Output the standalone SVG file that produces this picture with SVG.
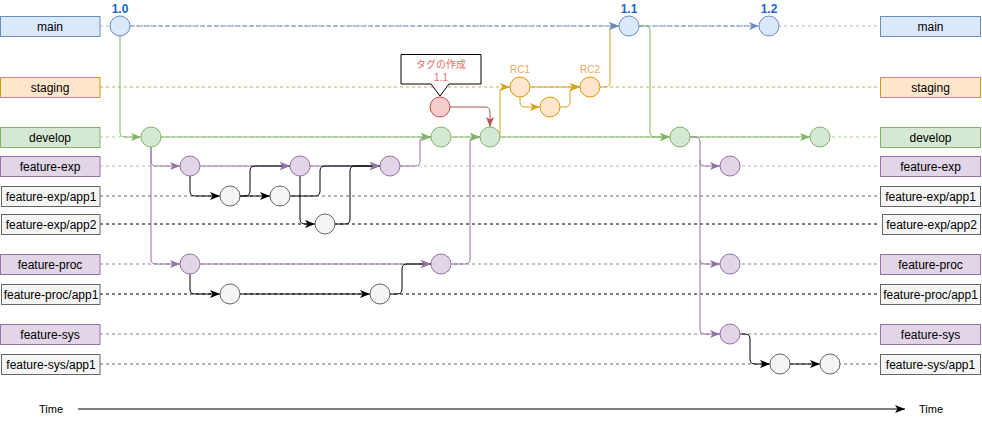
<svg xmlns="http://www.w3.org/2000/svg" width="982" height="425" viewBox="0 0 982 425">
<defs>
<style>
text{font-family:"Liberation Sans","Noto Sans CJK JP",Arial,sans-serif}
.lbl{font-size:12px;text-anchor:middle;fill:#000}
.ver{font-size:12px;font-weight:bold;fill:#1a66c8;text-anchor:middle}
.rc{font-size:10px;fill:#f2a65a;text-anchor:middle}
.bMain{fill:#dae8fc;stroke:#6c8ebf}
.bStg{fill:#ffe6cc;stroke:#d79b00}
.bDev{fill:#d5e8d4;stroke:#82b366}
.bFeat{fill:#e1d5e7;stroke:#9673a6}
.bApp{fill:#f5f5f5;stroke:#666666}
.bRed{fill:#f8cecc;stroke:#b85450}
.lane{fill:none;stroke-width:1;stroke-dasharray:3 3}
.c{fill:none;stroke-width:1}
.blue{stroke:#6c8ebf}
.green{stroke:#82b366}
.purple{stroke:#9673a6}
.black{stroke:#000}
.gold{stroke:#d6a31f}
.red{stroke:#b85450}
</style>
<marker id="aBlue" viewBox="0 0 10 8" refX="10" refY="4" markerWidth="10" markerHeight="8" markerUnits="userSpaceOnUse" orient="auto"><path d="M0,0 L10,4 L0,8 L2.5,4 Z" fill="#6c8ebf"/></marker>
<marker id="aGreen" viewBox="0 0 10 8" refX="10" refY="4" markerWidth="10" markerHeight="8" markerUnits="userSpaceOnUse" orient="auto"><path d="M0,0 L10,4 L0,8 L2.5,4 Z" fill="#82b366"/></marker>
<marker id="aPurple" viewBox="0 0 10 8" refX="10" refY="4" markerWidth="10" markerHeight="8" markerUnits="userSpaceOnUse" orient="auto"><path d="M0,0 L10,4 L0,8 L2.5,4 Z" fill="#9673a6"/></marker>
<marker id="aBlack" viewBox="0 0 10 8" refX="10" refY="4" markerWidth="10" markerHeight="8" markerUnits="userSpaceOnUse" orient="auto"><path d="M0,0 L10,4 L0,8 L2.5,4 Z" fill="#000"/></marker>
<marker id="aGold" viewBox="0 0 10 8" refX="10" refY="4" markerWidth="10" markerHeight="8" markerUnits="userSpaceOnUse" orient="auto"><path d="M0,0 L10,4 L0,8 L2.5,4 Z" fill="#d6a31f"/></marker>
<marker id="aRed" viewBox="0 0 10 8" refX="10" refY="4" markerWidth="10" markerHeight="8" markerUnits="userSpaceOnUse" orient="auto"><path d="M0,0 L10,4 L0,8 L2.5,4 Z" fill="#b85450"/></marker>
</defs>
<rect width="982" height="425" fill="#fff"/>

<g id="lanes">
<path class="lane" stroke="#a9bddb" d="M100,26 H880"/>
<path class="lane" stroke="#d9ad35" stroke-width="1.5" stroke-dasharray="4 3" d="M100,87 H880"/>
<path class="lane" stroke="#a8cf93" d="M100,137 H880"/>
<path class="lane" stroke="#c5afd3" d="M100,166 H880"/>
<path class="lane" stroke="#666" stroke-width="1.5" stroke-dasharray="4 3" d="M100,196 H880"/>
<path class="lane" stroke="#000" d="M100,224 H880"/>
<path class="lane" stroke="#8f7d9c" d="M100,264 H880"/>
<path class="lane" stroke="#000" d="M100,294 H880"/>
<path class="lane" stroke="#8f7d9c" d="M100,334 H880"/>
<path class="lane" stroke="#666" stroke-width="1.5" stroke-dasharray="4 3" d="M100,364 H880"/>
</g>

<g id="connectors">
<path class="c blue" stroke-width="1.5" stroke-dasharray="5 2" d="M130,26 H619" marker-end="url(#aBlue)"/>
<path class="c blue" stroke-width="1.5" stroke-dasharray="5 2" d="M639,26 H759" marker-end="url(#aBlue)"/>
<path class="c green" d="M120,36 V132 Q120,137 125,137 H141" marker-end="url(#aGreen)"/>
<path class="c green" stroke-width="1.3" d="M161,137 H431" marker-end="url(#aGreen)"/>
<path class="c green" stroke-width="1.3" d="M451,137 H480" marker-end="url(#aGreen)"/>
<path class="c green" stroke-width="1.3" d="M500,137 H670" marker-end="url(#aGreen)"/>
<path class="c green" stroke-width="1.3" d="M690,137 H810" marker-end="url(#aGreen)"/>
<path class="c green" d="M639,26 H645 Q650,26 650,31 V132 Q650,137 655,137 H670" marker-end="url(#aGreen)"/>
<path class="c gold" d="M500,134 V92 Q500,87 505,87 H510" marker-end="url(#aGold)"/>
<path class="c gold" stroke-width="1.5" d="M530,87 H580" marker-end="url(#aGold)"/>
<path class="c gold" d="M520,97 V102 Q520,107 525,107 H540" marker-end="url(#aGold)"/>
<path class="c gold" d="M560,107 H565 Q570,107 570,102 V92 Q570,87 575,87 H580" marker-end="url(#aGold)"/>
<path class="c gold" d="M600,87 H605 Q610,87 610,82 V31 Q610,26 615,26 H619" marker-end="url(#aBlue)"/>
<path class="c red" d="M450,107 H485 Q490,107 490,112 V127" marker-end="url(#aRed)"/>
<path class="c purple" d="M151,147 V161 Q151,166 156,166 H180" marker-end="url(#aPurple)"/>
<path class="c purple" d="M151,147 V259 Q151,264 156,264 H180" marker-end="url(#aPurple)"/>
<path class="c purple" d="M200,166 H290" marker-end="url(#aPurple)"/>
<path class="c purple" d="M310,166 H380" marker-end="url(#aPurple)"/>
<path class="c purple" d="M400,166 H415 Q420,166 420,161 V142 Q420,137 425,137 H431" marker-end="url(#aGreen)"/>
<path class="c black" d="M190,176 V191 Q190,196 195,196 H220" marker-end="url(#aBlack)"/>
<path class="c black" d="M240,196 H270" marker-end="url(#aBlack)"/>
<path class="c black" d="M240,196 H245 Q250,196 250,191 V171 Q250,166 255,166 H290" marker-end="url(#aPurple)"/>
<path class="c black" d="M290,196 H315 Q320,196 320,191 V171 Q320,166 325,166 H380" marker-end="url(#aPurple)"/>
<path class="c black" d="M300,176 V219 Q300,224 305,224 H315" marker-end="url(#aBlack)"/>
<path class="c black" d="M335,224 H345 Q350,224 350,219 V171 Q350,166 355,166 H380" marker-end="url(#aPurple)"/>
<path class="c purple" d="M200,264 H431" marker-end="url(#aPurple)"/>
<path class="c black" d="M190,274 V289 Q190,294 195,294 H220" marker-end="url(#aBlack)"/>
<path class="c black" d="M240,294 H370" marker-end="url(#aBlack)"/>
<path class="c black" d="M390,294 H397 Q402,294 402,289 V269 Q402,264 407,264 H431" marker-end="url(#aPurple)"/>
<path class="c purple" d="M451,264 H465 Q470,264 470,259 V142 Q470,137 475,137 H480" marker-end="url(#aGreen)"/>
<path class="c purple" d="M690,137 H695 Q700,137 700,142 V161 Q700,166 705,166 H720" marker-end="url(#aPurple)"/>
<path class="c purple" d="M700,160 V259 Q700,264 705,264 H720" marker-end="url(#aPurple)"/>
<path class="c purple" d="M700,260 V329 Q700,334 705,334 H720" marker-end="url(#aPurple)"/>
<path class="c black" d="M740,334 H745 Q750,334 750,339 V359 Q750,364 755,364 H770" marker-end="url(#aBlack)"/>
<path class="c black" d="M790,364 H820" marker-end="url(#aBlack)"/>
<path class="c black" d="M78,409 H905" marker-end="url(#aBlack)"/>
</g>

<g id="labels-left">
<g id="L-main"><rect class="bMain" x="0.5" y="16.5" width="99.5" height="20"/><text class="lbl" x="50" y="30.5">main</text></g>
<g id="L-staging"><rect class="bStg" x="0.5" y="77.5" width="99.5" height="20"/><text class="lbl" x="50" y="91.5">staging</text></g>
<g id="L-develop"><rect class="bDev" x="0.5" y="127.5" width="99.5" height="20"/><text class="lbl" x="50" y="141.5">develop</text></g>
<g id="L-fexp"><rect class="bFeat" x="0.5" y="156.5" width="99.5" height="20"/><text class="lbl" x="50" y="170.5">feature-exp</text></g>
<g id="L-fexp-app1"><rect class="bApp" x="1.5" y="186.5" width="98.5" height="20"/><text class="lbl" x="51" y="200.5">feature-exp/app1</text></g>
<g id="L-fexp-app2"><rect class="bApp" x="1.5" y="214.5" width="98.5" height="20"/><text class="lbl" x="51" y="228.5">feature-exp/app2</text></g>
<g id="L-fproc"><rect class="bFeat" x="0.5" y="254.5" width="99.5" height="20"/><text class="lbl" x="50" y="268.5">feature-proc</text></g>
<g id="L-fproc-app1"><rect class="bApp" x="1.5" y="284.5" width="98.5" height="20"/><text class="lbl" x="51" y="298.5">feature-proc/app1</text></g>
<g id="L-fsys"><rect class="bFeat" x="0.5" y="324.5" width="99.5" height="20"/><text class="lbl" x="50" y="338.5">feature-sys</text></g>
<g id="L-fsys-app1"><rect class="bApp" x="1.5" y="354.5" width="98.5" height="20"/><text class="lbl" x="51" y="368.5">feature-sys/app1</text></g>
</g>

<g id="labels-right">
<g id="R-main"><rect class="bMain" x="880.5" y="16.5" width="100" height="20"/><text class="lbl" x="930.5" y="30.5">main</text></g>
<g id="R-staging"><rect class="bStg" x="880.5" y="77.5" width="100" height="20"/><text class="lbl" x="930.5" y="91.5">staging</text></g>
<g id="R-develop"><rect class="bDev" x="880.5" y="127.5" width="100" height="20"/><text class="lbl" x="930.5" y="141.5">develop</text></g>
<g id="R-fexp"><rect class="bFeat" x="880.5" y="156.5" width="100" height="20"/><text class="lbl" x="930.5" y="170.5">feature-exp</text></g>
<g id="R-fexp-app1"><rect class="bApp" x="880.5" y="186.5" width="100" height="20"/><text class="lbl" x="930.5" y="200.5">feature-exp/app1</text></g>
<g id="R-fexp-app2"><rect class="bApp" x="882.5" y="214.5" width="98" height="20"/><text class="lbl" x="931.5" y="228.5">feature-exp/app2</text></g>
<g id="R-fproc"><rect class="bFeat" x="880.5" y="254.5" width="100" height="20"/><text class="lbl" x="930.5" y="268.5">feature-proc</text></g>
<g id="R-fproc-app1"><rect class="bApp" x="880.5" y="284.5" width="100" height="20"/><text class="lbl" x="930.5" y="298.5">feature-proc/app1</text></g>
<g id="R-fsys"><rect class="bFeat" x="880.5" y="324.5" width="100" height="20"/><text class="lbl" x="930.5" y="338.5">feature-sys</text></g>
<g id="R-fsys-app1"><rect class="bApp" x="880.5" y="354.5" width="100" height="20"/><text class="lbl" x="930.5" y="368.5">feature-sys/app1</text></g>
</g>

<g id="commits">
<g id="m10"><circle class="bMain" cx="120" cy="26" r="10"/><text class="ver" x="120" y="13">1.0</text></g>
<g id="m11"><circle class="bMain" cx="629" cy="26" r="10"/><text class="ver" x="629" y="13">1.1</text></g>
<g id="m12"><circle class="bMain" cx="769" cy="26" r="10"/><text class="ver" x="769" y="13">1.2</text></g>
<g id="tag"><circle class="bRed" cx="440" cy="107" r="10"/></g>
<g id="rc1"><circle class="bStg" cx="520" cy="87" r="10"/><text class="rc" x="520" y="73">RC1</text></g>
<g id="rcmid"><circle class="bStg" cx="550" cy="107" r="10"/></g>
<g id="rc2"><circle class="bStg" cx="590" cy="87" r="10"/><text class="rc" x="590" y="73">RC2</text></g>
<g id="d1"><circle class="bDev" cx="151" cy="137" r="10"/></g>
<g id="d2"><circle class="bDev" cx="441" cy="137" r="10"/></g>
<g id="d3"><circle class="bDev" cx="490" cy="137" r="10"/></g>
<g id="d4"><circle class="bDev" cx="680" cy="137" r="10"/></g>
<g id="d5"><circle class="bDev" cx="820" cy="137" r="10"/></g>
<g id="fe1"><circle class="bFeat" cx="190" cy="166" r="10"/></g>
<g id="fe2"><circle class="bFeat" cx="300" cy="166" r="10"/></g>
<g id="fe3"><circle class="bFeat" cx="390" cy="166" r="10"/></g>
<g id="fe4"><circle class="bFeat" cx="730" cy="166" r="10"/></g>
<g id="ea1"><circle class="bApp" cx="230" cy="196" r="10"/></g>
<g id="ea2"><circle class="bApp" cx="280" cy="196" r="10"/></g>
<g id="eb1"><circle class="bApp" cx="325" cy="224" r="10"/></g>
<g id="fp1"><circle class="bFeat" cx="190" cy="264" r="10"/></g>
<g id="fp2"><circle class="bFeat" cx="441" cy="264" r="10"/></g>
<g id="fp3"><circle class="bFeat" cx="730" cy="264" r="10"/></g>
<g id="pa1"><circle class="bApp" cx="230" cy="294" r="10"/></g>
<g id="pa2"><circle class="bApp" cx="380" cy="294" r="10"/></g>
<g id="fs1"><circle class="bFeat" cx="730" cy="334" r="10"/></g>
<g id="sa1"><circle class="bApp" cx="780" cy="364" r="10"/></g>
<g id="sa2"><circle class="bApp" cx="830" cy="364" r="10"/></g>
</g>

<g id="callout">
<path d="M401,54.5 H481 V84 H449 L440,96 L431,84 H401 Z" fill="#fff" stroke="#000"/>
<text x="441" y="68" font-size="10" fill="#ea6b66" text-anchor="middle">タグの作成</text>
<text x="441" y="81" font-size="10" fill="#ea6b66" text-anchor="middle">1.1</text>
</g>

<g id="time">
<text x="51" y="413" font-size="11" text-anchor="middle">Time</text>
<text x="931" y="413" font-size="11" text-anchor="middle">Time</text>
</g>
</svg>
